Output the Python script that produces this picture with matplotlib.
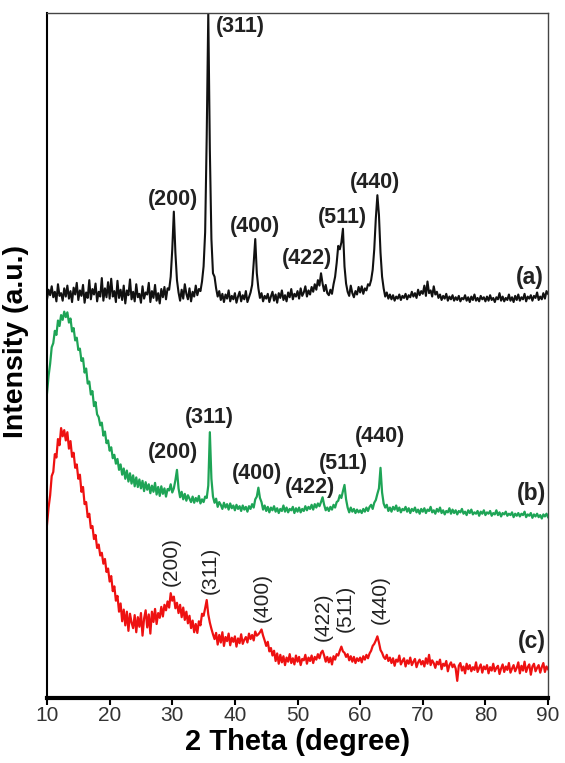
import numpy as np
import matplotlib
matplotlib.use("Agg")
import matplotlib.pyplot as plt

plt.rcParams['font.family'] = ['Liberation Sans', 'DejaVu Sans']

# 2 theta grid, 0.25 deg step (10 -> 90)
two_theta = np.linspace(10, 90, 321)

# (a) black pattern
pattern_a = [
    58.2, 59.6, 58.8, 60.1, 58.5, 59.3, 57.9, 60.4, 58.7, 59.1, 58.0, 59.8, 58.6, 60.2, 58.3, 59.4, 57.8, 59.9, 58.9, 60.6,
    58.1, 59.5, 58.7, 60.3, 57.7, 59.2, 58.4, 61.0, 58.2, 59.7, 58.9, 60.5, 57.9, 59.3, 58.6, 61.3, 58.0, 59.8, 58.5, 60.7,
    58.3, 61.2, 58.6, 59.4, 57.8, 60.9, 58.4, 59.6, 58.1, 60.2, 57.6, 59.5, 58.8, 61.1, 58.2, 59.3, 57.9, 60.4, 58.5, 59.0,
    57.7, 60.1, 58.3, 59.2, 58.9, 60.6, 57.8, 59.4, 58.4, 60.3, 58.0, 59.1, 57.6, 59.7, 58.5, 60.0, 58.2, 59.8, 59.6, 61.5,
    65.5, 71.0, 65.0, 61.0, 59.2, 58.0, 59.6, 58.3, 60.4, 59.0, 58.2, 59.8, 57.9, 59.3, 58.6, 60.2, 58.8, 59.7, 59.4, 60.8,
    63.0, 68.0, 82.0, 100.0, 80.0, 67.0, 62.0, 61.5, 59.8, 58.6, 59.4, 58.1, 59.0, 57.8, 58.9, 58.3, 59.5, 57.9, 58.7, 58.2,
    59.1, 57.7, 58.6, 59.3, 57.9, 58.8, 58.2, 59.4, 57.8, 58.5, 59.2, 60.3, 63.5, 67.0, 62.0, 59.8, 58.4, 59.1, 57.9, 58.7,
    58.3, 59.0, 57.8, 58.6, 59.3, 58.0, 58.9, 57.7, 59.1, 58.4, 59.5, 58.1, 58.8, 57.9, 59.2, 58.5, 59.7, 58.2, 59.0, 58.6,
    59.4, 58.3, 59.8, 58.7, 59.2, 60.1, 58.6, 59.5, 58.9, 60.0, 59.3, 60.4, 59.6, 61.0, 60.2, 62.0, 60.5, 59.4, 60.3, 59.1,
    58.8, 59.6, 59.0, 60.4, 61.5, 63.5, 66.0, 65.5, 66.5, 68.5, 63.0, 60.5, 59.3, 58.7, 60.2, 59.1, 58.5, 59.4, 58.9, 60.0,
    59.2, 60.1, 59.0, 59.8, 59.5, 60.4, 60.2, 61.0, 62.5, 65.5, 70.0, 73.4, 70.5, 65.0, 61.5, 59.8, 58.6, 59.2, 58.3, 58.9,
    58.2, 58.8, 58.0, 58.6, 58.3, 58.9, 58.1, 58.7, 58.4, 59.0, 58.2, 58.8, 58.5, 59.3, 58.6, 59.1, 58.4, 59.6, 58.8, 59.4,
    59.0, 60.2, 58.7, 60.8, 59.1, 59.5, 58.6, 60.1, 58.9, 59.3, 58.4, 58.9, 58.1, 58.7, 58.3, 59.0, 58.0, 58.6, 58.2, 58.8,
    58.0, 58.5, 58.1, 58.7, 57.9, 58.4, 58.2, 58.8, 58.0, 58.5, 57.8, 58.6, 58.1, 58.9, 58.0, 58.4, 57.9, 58.7, 58.2, 58.5,
    57.9, 58.6, 58.0, 58.8, 58.1, 58.4, 57.8, 58.5, 58.2, 59.1, 58.0, 58.6, 57.9, 58.4, 58.1, 58.9, 58.0, 58.5, 57.8, 58.7,
    58.1, 58.9, 58.0, 58.5, 58.2, 59.0, 57.9, 58.6, 58.3, 58.8, 58.0, 58.7, 58.4, 59.2, 58.1, 58.6, 58.2, 59.1, 58.3, 59.4,
    59.0,
]

# (b) green pattern
pattern_b = [
    44.5, 47.0, 48.8, 51.2, 51.8, 53.6, 53.0, 55.1, 54.3, 55.9, 55.2, 56.4, 55.6, 56.3, 54.8, 55.4, 53.5, 54.0, 52.2, 52.6,
    50.8, 51.0, 49.2, 49.6, 47.5, 48.1, 45.9, 46.2, 44.3, 44.8, 42.6, 43.2, 41.4, 41.0, 39.8, 40.2, 38.3, 38.9, 37.2, 37.6,
    36.1, 36.6, 35.0, 35.5, 34.2, 34.9, 33.3, 34.1, 32.6, 33.5, 32.0, 33.2, 31.6, 32.8, 31.3, 32.5, 30.9, 32.2, 30.8, 31.9,
    30.6, 31.7, 30.2, 31.5, 30.4, 31.2, 29.9, 31.0, 30.1, 31.4, 29.7, 30.8, 29.5, 30.9, 29.8, 30.6, 29.4, 30.5, 30.3, 31.2,
    30.0, 30.6, 31.8, 33.3, 30.6, 29.3, 30.1, 29.0, 29.8, 28.8, 29.6, 29.1, 28.6, 29.4, 28.5, 29.2, 28.7, 29.5, 28.4, 29.0,
    28.6, 29.4, 29.2, 31.0, 38.8, 32.0, 29.4, 28.5, 29.1, 27.9, 28.6, 28.2, 27.6, 28.5, 27.8, 28.3, 27.5, 28.4, 27.7, 28.1,
    27.4, 28.2, 27.6, 28.0, 27.3, 28.1, 27.5, 27.9, 27.2, 28.0, 27.6, 28.3, 27.8, 29.0, 29.4, 30.7, 29.2, 28.6, 27.5, 28.1,
    27.3, 27.9, 27.1, 27.8, 27.4, 28.0, 27.2, 27.7, 27.0, 27.6, 27.3, 28.1, 27.2, 27.8, 27.1, 27.6, 27.4, 27.9, 27.0, 27.7,
    27.2, 27.8, 27.1, 27.6, 27.3, 28.0, 27.4, 27.9, 27.6, 28.2, 27.5, 28.3, 27.8, 28.4, 28.0, 28.6, 29.3, 28.2, 27.4, 27.8,
    27.3, 27.9, 27.5, 28.2, 27.8, 28.6, 28.8, 29.6, 29.2, 30.2, 31.1, 29.0, 27.8, 27.1, 27.8, 27.2, 27.6, 27.0, 27.5, 27.1,
    27.4, 27.0, 27.6, 27.2, 27.8, 27.3, 27.9, 28.2, 27.6, 28.5, 28.9, 29.8, 30.6, 33.6, 30.0, 28.4, 27.8, 28.2, 27.3, 27.8,
    27.2, 27.9, 27.5, 28.1, 27.3, 27.8, 27.1, 27.6, 27.4, 27.9, 27.2, 27.7, 27.0, 27.6, 27.3, 27.8, 27.1, 27.5, 26.9, 27.6,
    27.2, 27.7, 27.0, 27.5, 27.3, 27.9, 27.1, 27.4, 26.9, 27.6, 27.2, 27.8, 27.0, 27.4, 26.8, 27.3, 27.1, 27.7, 26.9, 27.5,
    27.0, 27.4, 26.8, 27.3, 27.1, 27.6, 26.9, 27.2, 26.7, 27.4, 27.0, 27.5, 26.8, 27.1, 26.9, 27.3, 26.6, 27.2, 26.9, 27.4,
    26.7, 27.1, 26.9, 27.3, 26.6, 27.0, 26.8, 27.4, 26.7, 27.1, 26.5, 27.0, 26.8, 27.2, 26.6, 26.9, 26.7, 27.1, 26.4, 26.9,
    26.6, 27.0, 26.5, 26.9, 26.7, 27.2, 26.4, 26.8, 26.6, 27.0, 26.3, 26.8, 26.5, 26.9, 26.4, 26.7, 26.2, 26.8, 26.5, 26.9,
    26.4,
]

# (c) red pattern
pattern_c = [
    25.3, 27.8, 29.6, 32.4, 33.0, 35.6, 35.1, 37.8, 36.9, 39.4, 38.2, 39.1, 37.6, 38.8, 36.4, 37.5, 35.2, 35.8, 33.6, 34.1,
    32.0, 32.6, 30.1, 30.8, 28.3, 28.6, 26.4, 26.9, 24.8, 25.1, 23.2, 23.8, 21.9, 22.4, 20.8, 21.2, 19.6, 20.3, 18.4, 18.9,
    17.0, 17.8, 15.6, 16.3, 14.2, 14.9, 12.6, 13.8, 11.2, 12.9, 10.6, 12.6, 9.8, 12.3, 11.0, 10.2, 12.1, 9.6, 11.8, 10.4,
    12.4, 9.1, 11.6, 12.8, 10.3, 12.2, 9.4, 12.6, 11.1, 13.0, 10.8, 12.4, 11.7, 13.3, 11.9, 13.6, 12.8, 14.1, 13.2, 15.3,
    14.2, 14.8, 13.1, 13.9, 12.4, 13.6, 11.8, 13.2, 11.4, 12.6, 10.9, 12.0, 10.2, 11.3, 9.6, 10.8, 9.5, 11.2, 10.6, 12.3,
    12.0, 13.1, 14.3, 12.2, 11.0, 10.1, 9.3, 8.6, 9.5, 7.8, 9.2, 8.1, 9.6, 7.6, 8.9, 8.3, 9.4, 7.7, 8.8, 8.2,
    9.0, 7.5, 8.7, 8.0, 9.3, 7.9, 8.5, 8.9, 8.1, 9.4, 8.6, 9.2, 8.4, 9.7, 9.1, 9.3, 9.6, 10.0, 9.1, 8.4,
    7.6, 8.2, 6.8, 7.3, 6.2, 6.9, 5.4, 6.5, 5.0, 6.3, 5.2, 6.1, 4.8, 5.9, 5.3, 6.4, 5.1, 5.8, 4.9, 6.2,
    5.3, 6.0, 4.8, 5.7, 5.5, 6.3, 5.0, 5.9, 5.4, 6.2, 5.1, 6.0, 5.6, 6.4, 5.8, 6.6, 6.9, 6.2, 5.3, 6.0,
    5.2, 5.9, 4.9, 6.1, 5.6, 6.4, 6.2, 6.9, 7.5, 6.8, 6.6, 6.0, 6.4, 5.5, 6.1, 5.3, 6.0, 5.1, 5.8, 5.4,
    5.9, 5.2, 6.1, 5.6, 6.3, 5.8, 6.5, 6.9, 7.6, 7.9, 8.4, 9.0, 8.1, 7.0, 6.6, 6.0, 5.7, 6.3, 5.4, 5.9,
    5.1, 5.8, 4.7, 5.6, 5.3, 6.2, 4.9, 5.4, 5.8, 4.6, 5.5, 5.0, 5.9, 4.8, 5.3, 5.7, 4.5, 5.2, 5.6, 4.9,
    5.4, 4.6, 5.8, 5.0, 6.3, 4.8, 5.5, 5.1, 4.4, 5.3, 4.9, 5.6, 4.2, 5.0, 4.7, 5.4, 3.9, 4.8, 5.2, 4.5,
    4.9, 4.3, 2.5, 4.7, 5.1, 4.0, 4.6, 3.6, 5.0, 4.2, 4.8, 3.9, 4.5, 4.1, 5.2, 3.8, 4.4, 4.9, 3.7, 4.6,
    4.2, 4.8, 3.6, 4.5, 4.0, 5.0, 3.9, 4.4, 4.7, 3.5, 4.3, 4.9, 3.8, 4.6, 4.1, 5.1, 3.7, 4.3, 4.8, 3.9,
    4.4, 5.2, 3.6, 4.7, 4.0, 5.3, 3.8, 4.5, 4.9, 3.4, 4.6, 5.0, 3.9, 4.4, 4.8, 3.7, 4.5, 5.1, 3.8, 4.6,
    4.2,
]

hkl = ["(200)", "(311)", "(400)", "(422)", "(511)", "(440)"]

# label anchor points (2theta, intensity) per pattern
lab_a_x = [30.1, 40.8, 43.2, 51.5, 57.1, 62.4]
lab_a_y = [72.8, 98.0, 68.8, 64.2, 70.1, 75.3]
lab_b_x = [30.1, 36.0, 43.5, 52.0, 57.3, 63.2]
lab_b_y = [35.8, 40.9, 32.8, 30.7, 34.3, 38.1]
lab_c_x = [29.9, 36.0, 44.3, 54.1, 57.6, 63.2]
lab_c_y = [19.9, 18.7, 14.7, 11.8, 13.1, 14.3]

fig = plt.figure(figsize=(5.65, 7.63), dpi=100)
ax = fig.add_axes([0.0832, 0.0852, 0.8868, 0.8978])

ax.plot(two_theta, pattern_a, color='#111111', lw=1.5)
ax.plot(two_theta, pattern_b, color='#1ea456', lw=1.6)
ax.plot(two_theta, pattern_c, color='#ee1111', lw=1.6)

for t, x, y in zip(hkl, lab_a_x, lab_a_y):
    ax.text(x, y, t, ha='center', va='center', fontsize=15.5, fontweight='bold', color='#222222')
for t, x, y in zip(hkl, lab_b_x, lab_b_y):
    ax.text(x, y, t, ha='center', va='center', fontsize=15.5, fontweight='bold', color='#222222')
for t, x, y in zip(hkl, lab_c_x, lab_c_y):
    ax.text(x, y, t, ha='center', va='center', fontsize=15, rotation=90, color='#222222')

ax.text(87.1, 61.4, "(a)", ha='center', va='center', fontsize=16.5, fontweight='bold', color='#222222')
ax.text(87.4, 29.9, "(b)", ha='center', va='center', fontsize=16.5, fontweight='bold', color='#222222')
ax.text(87.4, 8.2, "(c)", ha='center', va='center', fontsize=16.5, fontweight='bold', color='#222222')

ax.set_xlim(10, 90)
ax.set_ylim(0, 100)
ax.set_yticks([])
ax.set_xticks(range(10, 91, 10))
ax.tick_params(axis='x', direction='out', length=5, width=1.5, labelsize=15, pad=1, labelcolor='#333333')

ax.spines['bottom'].set_linewidth(3)
ax.spines['left'].set_linewidth(1.5)
for s in ['top', 'right']:
    ax.spines[s].set_linewidth(1)
    ax.spines[s].set_color('#444444')

ax.set_xlabel("2 Theta (degree)", fontsize=21, fontweight='bold', labelpad=2)
ax.set_ylabel("Intensity (a.u.)", fontsize=20.5, fontweight='bold')
ax.yaxis.set_label_coords(-0.035, 0.52)

fig.savefig("out.png", dpi=100)
